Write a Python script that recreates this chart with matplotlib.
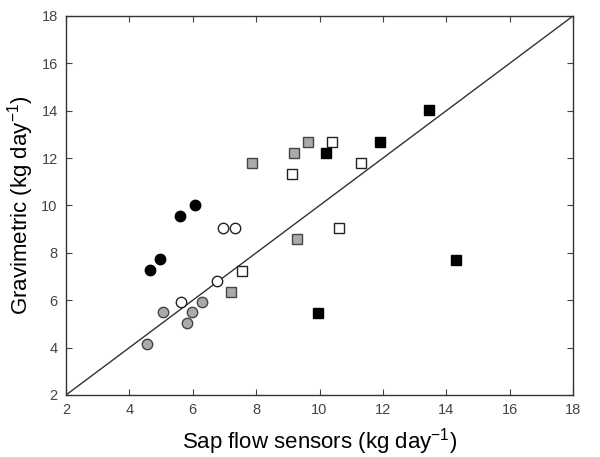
import matplotlib.pyplot as plt
import matplotlib

matplotlib.rcParams['font.family'] = ['Liberation Sans', 'DejaVu Sans']
matplotlib.rcParams['mathtext.fontset'] = 'custom'
matplotlib.rcParams['mathtext.rm'] = 'Liberation Sans'
matplotlib.rcParams['mathtext.it'] = 'Liberation Sans:italic'

# data (sap flow x, gravimetric y)
black_circle_x = [4.65, 4.97, 5.60, 6.07]
black_circle_y = [7.28, 7.73, 9.55, 10.0]

white_circle_x = [6.95, 7.33, 6.78, 5.62]
white_circle_y = [9.07, 9.07, 6.83, 5.93]

gray_circle_x = [4.57, 5.07, 5.82, 5.99, 6.28]
gray_circle_y = [4.15, 5.50, 5.05, 5.50, 5.93]

gray_square_x = [7.86, 9.20, 9.63, 9.30, 7.21]
gray_square_y = [11.78, 12.23, 12.68, 8.60, 6.34]

white_square_x = [9.13, 10.40, 11.30, 10.60, 7.55]
white_square_y = [11.33, 12.68, 11.78, 9.05, 7.24]

black_square_x = [13.45, 11.92, 10.19, 14.32, 9.95]
black_square_y = [14.03, 12.68, 12.23, 7.70, 5.47]

ticks = [2, 4, 6, 8, 10, 12, 14, 16, 18]

fig = plt.figure(figsize=(6, 4.57), dpi=100)
ax = fig.add_axes([0.11, 0.1357, 0.845, 0.8293])

# 1:1 line
ax.plot([2, 18], [2, 18], color='#333333', linewidth=1)

ms = 7.5
ax.plot(black_circle_x, black_circle_y, 'o', ms=ms, mfc='black', mec='black', mew=1)
ax.plot(white_circle_x, white_circle_y, 'o', ms=ms, mfc='white', mec='#222222', mew=1)
ax.plot(gray_circle_x, gray_circle_y, 'o', ms=ms, mfc='#aaaaaa', mec='#444444', mew=1)
ax.plot(gray_square_x, gray_square_y, 's', ms=ms, mfc='#aaaaaa', mec='#444444', mew=1)
ax.plot(white_square_x, white_square_y, 's', ms=ms, mfc='white', mec='#222222', mew=1)
ax.plot(black_square_x, black_square_y, 's', ms=ms, mfc='black', mec='black', mew=1)

ax.set_xlim(2, 18)
ax.set_ylim(2, 18)
ax.set_xticks(ticks)
ax.set_yticks(ticks)
ax.tick_params(direction='in', top=True, right=True, length=4, width=0.8,
               labelsize=10.5, labelcolor='#444444', pad=6, color='#444444')
for s in ax.spines.values():
    s.set_color('#333333')
    s.set_linewidth(1)

ax.set_xlabel('Sap flow sensors (kg day$^{\\mathrm{-1}}$)', fontsize=16, labelpad=6)
ax.set_ylabel('Gravimetric (kg day$^{\\mathrm{-1}}$)', fontsize=16, labelpad=4)

plt.savefig('out.png', dpi=100)
